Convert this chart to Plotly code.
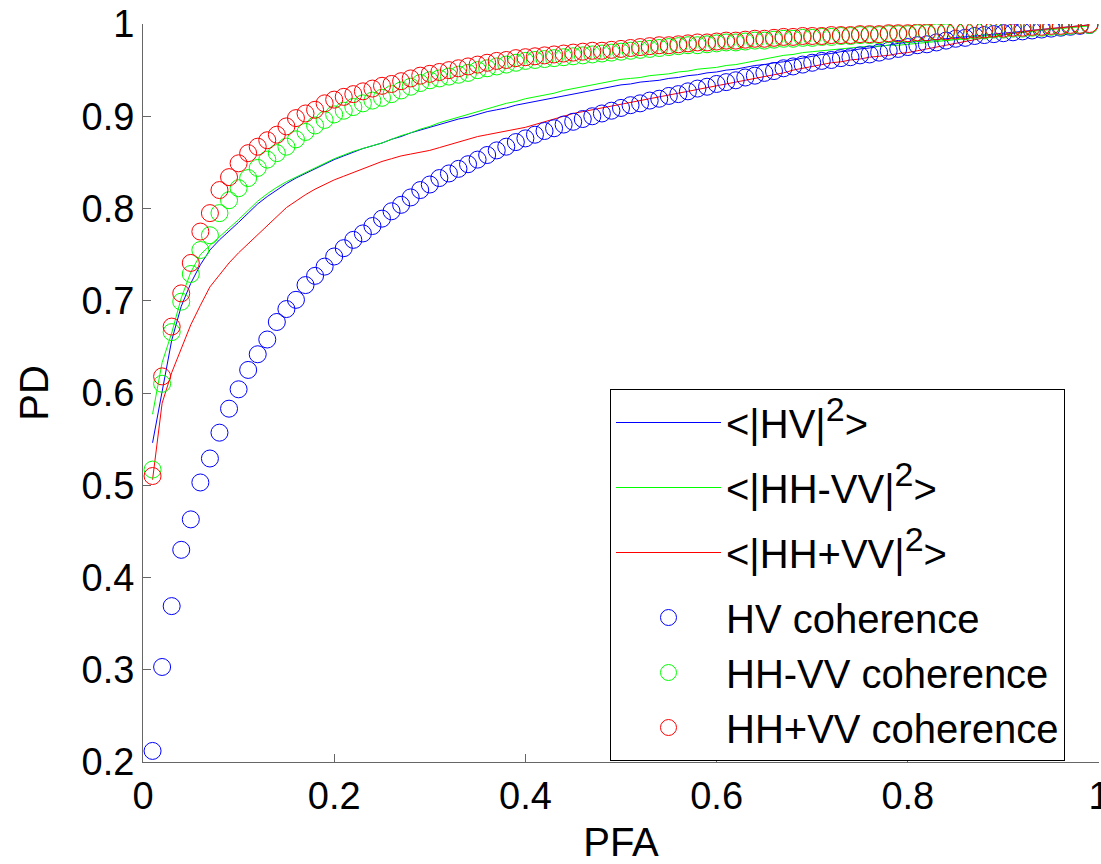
import plotly.graph_objects as go

pfa = [round(0.01 * i, 2) for i in range(1, 100)]

# Line series: <|HV|^2>, <|HH-VV|^2>, <|HH+VV|^2>
hv_pow = [0.546, 0.600, 0.657, 0.694, 0.719, 0.739, 0.755, 0.766, 0.775, 0.785,
          0.795, 0.805, 0.813, 0.820, 0.827, 0.833, 0.838, 0.843, 0.848, 0.853,
          0.857, 0.861, 0.865, 0.868, 0.871, 0.875, 0.878, 0.882, 0.885, 0.888,
          0.891, 0.894, 0.897, 0.899, 0.902, 0.905, 0.907, 0.909, 0.912, 0.914,
          0.916, 0.918, 0.920, 0.922, 0.924, 0.926, 0.928, 0.930, 0.932, 0.934,
          0.935, 0.937, 0.938, 0.939, 0.941, 0.942, 0.944, 0.945, 0.947, 0.948,
          0.950, 0.951, 0.953, 0.955, 0.956, 0.958, 0.959, 0.961, 0.963, 0.965,
          0.967, 0.968, 0.970, 0.971, 0.973, 0.974, 0.976, 0.977, 0.979, 0.980,
          0.981, 0.982, 0.983, 0.984, 0.985, 0.986, 0.987, 0.988, 0.989, 0.990,
          0.991, 0.992, 0.993, 0.994, 0.995, 0.996, 0.997, 0.998, 0.999]
hhmvv_pow = [0.577, 0.633, 0.665, 0.703, 0.731, 0.750, 0.760, 0.769, 0.778, 0.788,
             0.798, 0.808, 0.816, 0.823, 0.829, 0.834, 0.839, 0.844, 0.849, 0.854,
             0.858, 0.862, 0.865, 0.868, 0.871, 0.875, 0.879, 0.882, 0.886, 0.889,
             0.893, 0.896, 0.899, 0.902, 0.905, 0.908, 0.911, 0.914, 0.916, 0.919,
             0.921, 0.923, 0.925, 0.928, 0.930, 0.932, 0.934, 0.936, 0.938, 0.940,
             0.941, 0.942, 0.944, 0.945, 0.946, 0.948, 0.949, 0.951, 0.952, 0.953,
             0.955, 0.956, 0.958, 0.960, 0.962, 0.964, 0.966, 0.967, 0.969, 0.970,
             0.971, 0.972, 0.973, 0.974, 0.975, 0.976, 0.976, 0.977, 0.977, 0.978,
             0.979, 0.980, 0.981, 0.982, 0.983, 0.984, 0.986, 0.987, 0.988, 0.989,
             0.990, 0.991, 0.992, 0.993, 0.994, 0.995, 0.996, 0.997, 0.998]
hhpvv_pow = [0.506, 0.589, 0.622, 0.649, 0.674, 0.695, 0.715, 0.728, 0.741, 0.752,
             0.762, 0.772, 0.782, 0.792, 0.801, 0.808, 0.815, 0.821, 0.826, 0.831,
             0.835, 0.839, 0.843, 0.847, 0.851, 0.854, 0.857, 0.859, 0.861, 0.863,
             0.866, 0.869, 0.872, 0.875, 0.878, 0.880, 0.882, 0.884, 0.886, 0.888,
             0.891, 0.894, 0.897, 0.900, 0.903, 0.905, 0.907, 0.909, 0.911, 0.913,
             0.915, 0.917, 0.919, 0.921, 0.923, 0.925, 0.927, 0.929, 0.931, 0.933,
             0.935, 0.937, 0.939, 0.941, 0.943, 0.945, 0.947, 0.950, 0.952, 0.954,
             0.956, 0.958, 0.959, 0.961, 0.962, 0.964, 0.965, 0.966, 0.968, 0.969,
             0.971, 0.973, 0.975, 0.977, 0.979, 0.981, 0.983, 0.985, 0.986, 0.988,
             0.990, 0.991, 0.993, 0.994, 0.995, 0.996, 0.997, 0.998, 0.999]

# Marker series: coherence detectors
hv_coh = [0.212, 0.303, 0.369, 0.430, 0.463, 0.503, 0.529, 0.557, 0.583, 0.604,
          0.625, 0.642, 0.658, 0.677, 0.691, 0.701, 0.717, 0.727, 0.737, 0.748,
          0.757, 0.766, 0.773, 0.781, 0.789, 0.797, 0.804, 0.812, 0.820, 0.826,
          0.833, 0.838, 0.843, 0.848, 0.853, 0.858, 0.863, 0.867, 0.872, 0.876,
          0.880, 0.884, 0.887, 0.891, 0.894, 0.897, 0.900, 0.903, 0.906, 0.909,
          0.912, 0.914, 0.917, 0.919, 0.922, 0.924, 0.927, 0.930, 0.932, 0.935,
          0.937, 0.939, 0.942, 0.944, 0.947, 0.949, 0.952, 0.954, 0.956, 0.958,
          0.960, 0.961, 0.963, 0.964, 0.966, 0.967, 0.969, 0.971, 0.973, 0.975,
          0.977, 0.978, 0.980, 0.982, 0.984, 0.985, 0.987, 0.988, 0.989, 0.990,
          0.991, 0.992, 0.993, 0.994, 0.995, 0.996, 0.997, 0.998, 0.999]
hhmvv_coh = [0.517, 0.610, 0.666, 0.699, 0.729, 0.755, 0.771, 0.795, 0.809, 0.822,
             0.833, 0.844, 0.853, 0.860, 0.867, 0.875, 0.883, 0.890, 0.896, 0.902,
             0.906, 0.910, 0.914, 0.917, 0.920, 0.924, 0.928, 0.932, 0.936, 0.939,
             0.941, 0.943, 0.945, 0.947, 0.950, 0.952, 0.954, 0.956, 0.958, 0.960,
             0.961, 0.962, 0.963, 0.964, 0.965, 0.966, 0.967, 0.968, 0.969, 0.970,
             0.971, 0.972, 0.973, 0.974, 0.975, 0.976, 0.977, 0.977, 0.978, 0.979,
             0.980, 0.980, 0.981, 0.982, 0.982, 0.983, 0.984, 0.984, 0.985, 0.985,
             0.986, 0.986, 0.987, 0.987, 0.988, 0.988, 0.988, 0.989, 0.989, 0.989,
             0.990, 0.990, 0.991, 0.991, 0.992, 0.992, 0.993, 0.993, 0.994, 0.994,
             0.995, 0.995, 0.996, 0.996, 0.997, 0.997, 0.998, 0.999, 0.999]
hhpvv_coh = [0.510, 0.618, 0.672, 0.708, 0.741, 0.775, 0.795, 0.820, 0.834, 0.849,
             0.860, 0.867, 0.874, 0.880, 0.889, 0.898, 0.903, 0.907, 0.914, 0.918,
             0.921, 0.924, 0.927, 0.930, 0.933, 0.935, 0.938, 0.941, 0.944, 0.946,
             0.948, 0.950, 0.952, 0.954, 0.956, 0.958, 0.960, 0.961, 0.963, 0.964,
             0.965, 0.966, 0.967, 0.968, 0.969, 0.970, 0.971, 0.971, 0.972, 0.973,
             0.974, 0.975, 0.976, 0.977, 0.977, 0.978, 0.979, 0.980, 0.980, 0.981,
             0.982, 0.982, 0.983, 0.984, 0.984, 0.985, 0.986, 0.986, 0.987, 0.987,
             0.987, 0.988, 0.988, 0.988, 0.989, 0.989, 0.989, 0.990, 0.990, 0.990,
             0.991, 0.991, 0.992, 0.992, 0.993, 0.993, 0.994, 0.994, 0.995, 0.995,
             0.996, 0.996, 0.997, 0.997, 0.998, 0.998, 0.999, 0.999, 1.000]

x_ticks = [0, 0.2, 0.4, 0.6, 0.8, 1]
x_tick_labels = ["0", "0.2", "0.4", "0.6", "0.8", "1"]
y_ticks = [0.2, 0.3, 0.4, 0.5, 0.6, 0.7, 0.8, 0.9, 1]
y_tick_labels = ["0.2", "0.3", "0.4", "0.5", "0.6", "0.7", "0.8", "0.9", "1"]

BLUE, GREEN, RED = "#0000ff", "#00ff00", "#ff0000"
FONT = "Arial, 'Liberation Sans', sans-serif"
SUP2 = "<sup><span style='font-size:34px'>2</span></sup>"

fig = go.Figure()
line_series = [
    ("&lt;|HV|" + SUP2 + "&gt;", hv_pow, BLUE, "g1"),
    ("&lt;|HH-VV|" + SUP2 + "&gt;", hhmvv_pow, GREEN, "g2"),
    ("&lt;|HH+VV|" + SUP2 + "&gt;", hhpvv_pow, RED, "g3"),
]
for name, ys, col, grp in line_series:
    fig.add_trace(go.Scatter(x=pfa, y=ys, mode="lines", name=name, legendgroup=grp,
                             line=dict(color=col, width=1)))
marker_series = [
    ("HV coherence", hv_coh, BLUE),
    ("HH-VV coherence", hhmvv_coh, GREEN),
    ("HH+VV coherence", hhpvv_coh, RED),
]
for name, ys, col in marker_series:
    fig.add_trace(go.Scatter(x=pfa, y=ys, mode="markers", name=name, legendgroup="g4",
                             marker=dict(symbol="circle-open", size=17,
                                         color=col, line=dict(width=1, color=col))))

axis_common = dict(showgrid=False, zeroline=False, showline=True,
                   linecolor="#666666", linewidth=1, ticks="inside", ticklen=8,
                   tickcolor="#666666", tickwidth=1, mirror=False,
                   automargin=False, ticklabeloverflow="allow",
                   tickfont=dict(family=FONT, size=38, color="black"))

fig.update_layout(
    width=1101, height=864,
    margin=dict(l=143, r=2, t=24, b=102, autoexpand=False),
    paper_bgcolor="white", plot_bgcolor="white",
    font=dict(family=FONT, color="black"),
    xaxis=dict(range=[0, 1], tickvals=x_ticks, ticktext=x_tick_labels,
               title=dict(text="PFA", font=dict(family=FONT, size=40), standoff=34),
               **axis_common),
    yaxis=dict(range=[0.2, 1], tickvals=y_ticks, ticktext=y_tick_labels,
               title=dict(text="PD", font=dict(family=FONT, size=40), standoff=20),
               **axis_common),
    legend=dict(x=0.4885, y=0.5054, xanchor="left", yanchor="top",
                bgcolor="white", bordercolor="black", borderwidth=1,
                font=dict(family=FONT, size=40, color="black"),
                itemwidth=105, tracegroupgap=10, traceorder="grouped"),
    showlegend=True,
)

fig.write_html("out.html")
